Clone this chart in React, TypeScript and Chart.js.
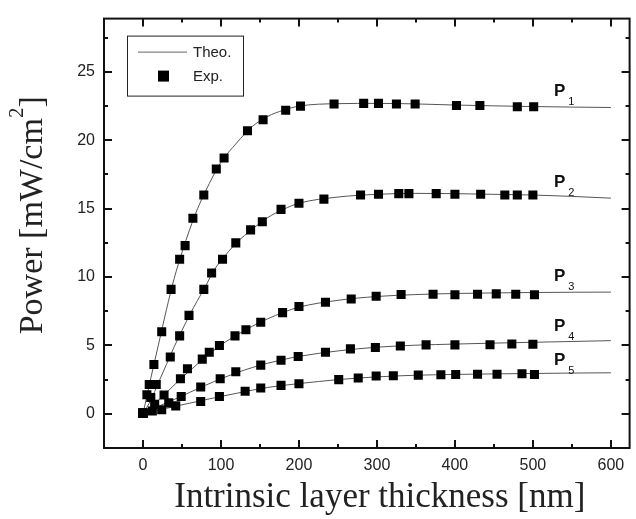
import React, { useEffect, useRef } from "react";
import { Chart, registerables } from "chart.js";

Chart.register(...registerables);

// ---- axis ticks ----
const X_TICKS = [0, 100, 200, 300, 400, 500, 600];
const X_MINOR = [50, 150, 250, 350, 450, 550];
const Y_TICKS = [0, 5, 10, 15, 20, 25];
const Y_MINOR = [2.5, 7.5, 12.5, 17.5, 22.5, 27.5];

// ---- theoretical curves ----
const THEO_X = [0, 10, 20, 30, 40, 50, 60, 70, 80, 90, 100, 120, 140, 160, 180, 200, 250, 300, 350, 400, 450, 500, 550, 600];
const THEO_P1 = [0, 2.6, 5.1, 7.6, 9.9, 11.8, 13.5, 15.0, 16.25, 17.4, 18.4, 19.8, 21.0, 21.75, 22.2, 22.5, 22.68, 22.7, 22.66, 22.58, 22.52, 22.47, 22.43, 22.4];
const THEO_P2 = [0, 1.0, 2.3, 3.6, 4.9, 6.1, 7.25, 8.3, 9.3, 10.4, 11.2, 12.5, 13.5, 14.35, 14.95, 15.4, 15.85, 16.05, 16.12, 16.1, 16.05, 16.0, 15.9, 15.77];
const THEO_P3 = [0, 0.5, 1.0, 1.55, 2.1, 2.65, 3.15, 3.65, 4.15, 4.6, 5.05, 5.75, 6.4, 6.95, 7.42, 7.8, 8.3, 8.58, 8.72, 8.8, 8.84, 8.87, 8.89, 8.9];
const THEO_P4 = [0, 0.27, 0.55, 0.8, 1.05, 1.3, 1.57, 1.83, 2.08, 2.33, 2.57, 3.0, 3.38, 3.7, 3.97, 4.2, 4.6, 4.87, 5.02, 5.1, 5.17, 5.23, 5.29, 5.35];
const THEO_P5 = [0, 0.13, 0.27, 0.4, 0.53, 0.66, 0.78, 0.9, 1.03, 1.15, 1.27, 1.5, 1.73, 1.93, 2.08, 2.21, 2.5, 2.7, 2.82, 2.88, 2.92, 2.95, 2.98, 3.0];

// ---- experimental points ----
const EXP_P1_X = [0, 5, 8, 14, 24, 36, 47, 54, 64, 78, 94, 104, 134, 154, 183, 202, 245, 283, 302, 325, 349, 402, 432, 480, 501];
const EXP_P1_Y = [0.05, 1.4, 2.15, 3.6, 6.0, 9.1, 11.3, 12.3, 14.3, 16.0, 17.9, 18.7, 20.7, 21.5, 22.2, 22.5, 22.65, 22.7, 22.7, 22.65, 22.65, 22.55, 22.55, 22.45, 22.45];
const EXP_P2_X = [0, 10, 17, 35, 47, 59, 78, 88, 102, 119, 138, 153, 177, 200, 232, 279, 302, 328, 341, 376, 400, 433, 464, 480, 500];
const EXP_P2_Y = [0.05, 1.2, 2.15, 4.15, 5.7, 7.2, 9.1, 10.3, 11.3, 12.5, 13.45, 14.05, 14.95, 15.4, 15.7, 16.0, 16.05, 16.1, 16.1, 16.1, 16.05, 16.05, 16.0, 16.0, 16.0];
const EXP_P3_X = [0, 15, 27, 48, 57, 76, 85, 98, 118, 132, 151, 179, 200, 234, 267, 299, 331, 372, 400, 429, 453, 478, 502];
const EXP_P3_Y = [0.05, 0.7, 1.38, 2.57, 3.3, 4.0, 4.5, 5.0, 5.7, 6.15, 6.7, 7.4, 7.85, 8.16, 8.4, 8.6, 8.72, 8.74, 8.7, 8.75, 8.77, 8.75, 8.7];
const EXP_P4_X = [0, 12, 33, 49, 74, 99, 119, 151, 177, 199, 234, 266, 298, 330, 363, 400, 445, 473, 500];
const EXP_P4_Y = [0.05, 0.2, 0.8, 1.26, 1.96, 2.57, 3.07, 3.56, 3.92, 4.19, 4.5, 4.75, 4.85, 4.96, 5.04, 5.04, 5.05, 5.1, 5.08];
const EXP_P5_X = [0, 24, 42, 74, 98, 131, 151, 177, 200, 251, 276, 299, 321, 353, 382, 401, 429, 454, 486, 502];
const EXP_P5_Y = [0.05, 0.3, 0.58, 0.9, 1.26, 1.65, 1.89, 2.08, 2.2, 2.5, 2.62, 2.76, 2.79, 2.83, 2.85, 2.88, 2.9, 2.9, 2.93, 2.88];

// ---- curve labels (P_n) in data coordinates ----
const LABEL_SUBS = ["1", "2", "3", "4", "5"];
const LABEL_X = 527;
const LABEL_Y = [23.26, 16.57, 9.74, 6.03, 3.56];

const X_TITLE = "Intrinsic layer thickness [nm]";
const Y_TITLE_MAIN = "Power [mW/cm";
const Y_TITLE_SUP = "2";
const Y_TITLE_END = "]";
const LEGEND_LINE = "Theo.";
const LEGEND_POINT = "Exp.";

const SANS = "'Liberation Sans', Arial, sans-serif";
const SERIF = "'Liberation Serif', 'Times New Roman', serif";

const zip = (xs: number[], ys: number[]) => xs.map((x, i) => ({ x, y: ys[i] }));

const decorPlugin = {
  id: "decor",
  afterDraw(chart: any) {
    const { ctx, chartArea: a, scales } = chart;
    const xs = scales.x;
    const ys = scales.y;
    ctx.save();
    // frame
    ctx.strokeStyle = "#111";
    ctx.lineWidth = 2;
    ctx.strokeRect(a.left, a.top, a.right - a.left, a.bottom - a.top);
    // ticks (inward, on all four sides)
    const major = 8;
    const minor = 4;
    ctx.lineWidth = 2;
    ctx.beginPath();
    const xt = (v: number, len: number) => {
      const p = Math.round(xs.getPixelForValue(v));
      ctx.moveTo(p, a.bottom);
      ctx.lineTo(p, a.bottom - len);
      ctx.moveTo(p, a.top);
      ctx.lineTo(p, a.top + len);
    };
    const yt = (v: number, len: number) => {
      const p = Math.round(ys.getPixelForValue(v));
      ctx.moveTo(a.left, p);
      ctx.lineTo(a.left + len, p);
      ctx.moveTo(a.right, p);
      ctx.lineTo(a.right - len, p);
    };
    X_TICKS.forEach((v) => xt(v, major));
    X_MINOR.forEach((v) => xt(v, minor));
    Y_TICKS.forEach((v) => yt(v, major));
    Y_MINOR.forEach((v) => yt(v, minor));
    ctx.stroke();

    // curve labels P_n
    ctx.fillStyle = "#111";
    ctx.textBaseline = "alphabetic";
    ctx.textAlign = "left";
    LABEL_SUBS.forEach((s, i) => {
      const px = xs.getPixelForValue(LABEL_X);
      const py = ys.getPixelForValue(LABEL_Y[i]);
      ctx.font = `bold 17px ${SANS}`;
      ctx.fillText("P", px, py);
      const w = ctx.measureText("P").width;
      ctx.font = `11px ${SANS}`;
      ctx.fillText(s, px + w + 3, py + 9);
    });

    // legend box
    const lx = a.left + 23;
    const ly = a.top + 17;
    ctx.lineWidth = 1;
    ctx.strokeStyle = "#222";
    ctx.strokeRect(lx + 0.5, ly + 0.5, 116, 60);
    ctx.strokeStyle = "#666";
    ctx.beginPath();
    ctx.moveTo(lx + 11, ly + 16.5);
    ctx.lineTo(lx + 60, ly + 16.5);
    ctx.stroke();
    ctx.fillStyle = "#000";
    ctx.fillRect(lx + 31, ly + 35, 11, 11);
    ctx.font = `15px ${SANS}`;
    ctx.fillStyle = "#222";
    ctx.textBaseline = "middle";
    ctx.fillText(LEGEND_LINE, lx + 66, ly + 17);
    ctx.fillText(LEGEND_POINT, lx + 66, ly + 41);

    // x title
    ctx.fillStyle = "#222";
    ctx.font = `35px ${SERIF}`;
    ctx.textAlign = "center";
    ctx.textBaseline = "alphabetic";
    ctx.fillText(X_TITLE, (a.left + a.right) / 2 + 13, 507);

    // y title (rotated, with superscript)
    ctx.save();
    const cy = (a.top + a.bottom) / 2 - 18;
    ctx.translate(42, cy);
    ctx.rotate(-Math.PI / 2);
    ctx.textAlign = "left";
    ctx.font = `34px ${SERIF}`;
    const w1 = ctx.measureText(Y_TITLE_MAIN).width;
    const w3 = ctx.measureText(Y_TITLE_END).width;
    ctx.font = `21px ${SERIF}`;
    const w2 = ctx.measureText(Y_TITLE_SUP).width;
    const total = w1 + w2 + w3;
    let sx = -total / 2;
    ctx.font = `34px ${SERIF}`;
    ctx.fillText(Y_TITLE_MAIN, sx, 0);
    sx += w1;
    ctx.font = `21px ${SERIF}`;
    ctx.fillText(Y_TITLE_SUP, sx, -19);
    sx += w2;
    ctx.font = `34px ${SERIF}`;
    ctx.fillText(Y_TITLE_END, sx, 0);
    ctx.restore();

    ctx.restore();
  },
};

export default function App() {
  const ref = useRef<HTMLCanvasElement | null>(null);
  useEffect(() => {
    document.body.style.margin = "0";
    const canvas = ref.current;
    if (!canvas) return;
    const theo = (ys: number[]) => ({
      type: "line",
      data: zip(THEO_X, ys),
      showLine: true,
      borderColor: "#555",
      borderWidth: 1,
      pointRadius: 0,
      cubicInterpolationMode: "monotone",
      fill: false,
      order: 2,
    });
    const exp = (xs: number[], ys: number[]) => ({
      type: "scatter",
      data: zip(xs, ys),
      showLine: false,
      pointStyle: "rect",
      pointRadius: 6.4,
      backgroundColor: "#000",
      borderColor: "#000",
      borderWidth: 0,
      order: 1,
    });
    const chart = new Chart(canvas, {
      type: "scatter",
      data: {
        datasets: [
          theo(THEO_P1), theo(THEO_P2), theo(THEO_P3), theo(THEO_P4), theo(THEO_P5),
          exp(EXP_P1_X, EXP_P1_Y), exp(EXP_P2_X, EXP_P2_Y), exp(EXP_P3_X, EXP_P3_Y),
          exp(EXP_P4_X, EXP_P4_Y), exp(EXP_P5_X, EXP_P5_Y),
        ] as any,
      },
      options: {
        animation: false,
        responsive: false,
        devicePixelRatio: 1,
        layout: { padding: { top: 15, right: 1, left: 0, bottom: 0 } },
        plugins: { legend: { display: false }, tooltip: { enabled: false }, title: { display: false } },
        scales: {
          x: {
            type: "linear",
            min: -50,
            max: 624,
            grid: { display: false, drawTicks: false },
            border: { display: false },
            afterBuildTicks: (s: any) => { s.ticks = X_TICKS.map((v) => ({ value: v })); },
            afterFit: (s: any) => { s.height = 71; },
            ticks: { color: "#222", padding: 8, maxRotation: 0, font: { family: SANS, size: 16 } },
          },
          y: {
            type: "linear",
            min: -2.5,
            max: 28.9,
            grid: { display: false, drawTicks: false },
            border: { display: false },
            afterBuildTicks: (s: any) => { s.ticks = Y_TICKS.map((v) => ({ value: v })); },
            afterFit: (s: any) => { s.width = 104; },
            ticks: { color: "#222", padding: 9, font: { family: SANS, size: 16 } },
          },
        },
      } as any,
      plugins: [decorPlugin],
    });
    return () => chart.destroy();
  }, []);
  return (
    <div style={{ width: 636, height: 519, background: "#fff" }}>
      <canvas ref={ref} width={636} height={519} style={{ display: "block" }} />
    </div>
  );
}
